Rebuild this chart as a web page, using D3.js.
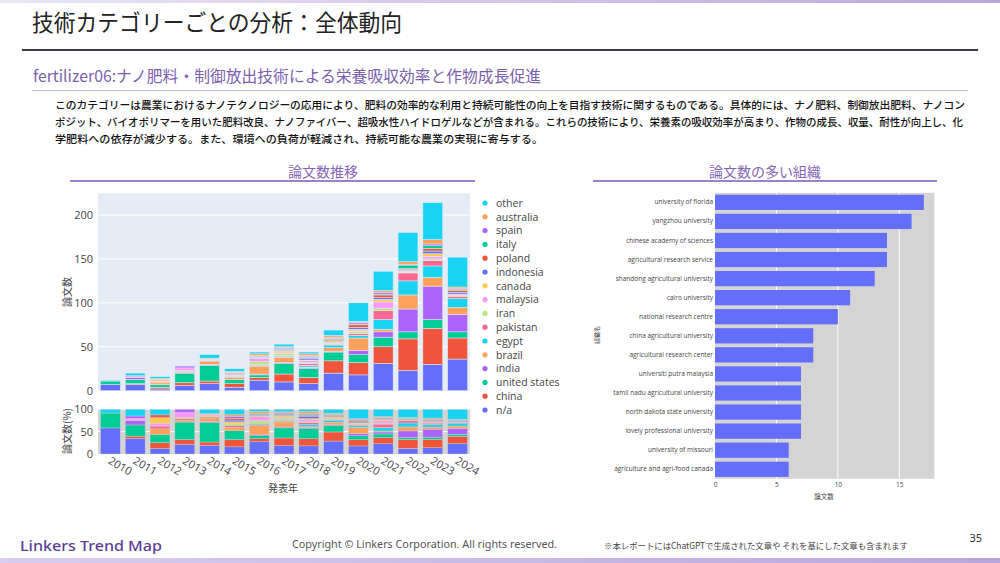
<!DOCTYPE html>
<html><head><meta charset="utf-8">
<script src="https://cdn.jsdelivr.net/npm/d3@7"></script>
<style>
html,body{margin:0;padding:0;background:#fff;}
svg{display:block;}
</style></head>
<body>
<svg id="c" width="1000" height="563"></svg>
<script>
// ---------- DATA ----------
const years = ["2010","2011","2012","2013","2014","2015","2016","2017","2018","2019","2020","2021","2022","2023","2024"];
const seriesKeys = ["n/a","china","united states","india","brazil","egypt","pakistan","iran","malaysia","canada","indonesia","poland","italy","spain","australia","other"];
const seriesColors = ["#636EFA","#EF553B","#00CC96","#AB63FA","#FFA15A","#19D3F3","#FF6692","#B6E880","#FF97FF","#FECB52","#636EFA","#EF553B","#00CC96","#AB63FA","#FFA15A","#19D3F3"];
const vNA        = [7,7,2,6,8,4,12,10,8,20,18,31,23,30,36];
const vChina     = [0,1,2,3,3,4,3,9,7,14,14,19,36,41,24];
const vUS        = [4,5,3,11,18,5,3,12,10,10,9,11,8,10,7];
const vIndia     = [0,2,0,0,1,0,1,1,1,1,5,6,26,38,20];
const vBrazil    = [0,0,2,1,3,2,9,6,1,4,14,3,16,10,8];
const vEgypt     = [0,0,0,0,0,0,1,1,2,3,3,11,16,13,10];
const vPakistan  = [0,0,1,1,1,1,1,1,2,1,2,10,9,6,2];
const vIran      = [0,0,0,1,1,1,3,2,1,1,2,3,1,2,1];
const vMalaysia  = [0,1,1,3,1,0,4,1,2,1,1,7,1,3,1];
const vCanada    = [0,0,2,0,1,1,1,2,1,2,2,3,1,3,1];
const vIndonesia = [0,0,0,0,0,1,1,1,2,1,2,2,1,3,2];
const vPoland    = [0,0,1,0,0,1,0,1,1,1,3,3,1,3,2];
const vItaly     = [0,0,0,0,0,0,1,1,1,1,1,1,4,3,1];
const vSpain     = [0,1,0,2,0,1,0,1,1,1,2,2,1,2,1];
const vAustralia = [0,0,0,0,0,1,2,1,2,2,1,2,3,5,2];
const vOther     = [1,3,2,0,4,3,2,3,2,6,21,22,33,42,34];
const seriesValues = [vNA,vChina,vUS,vIndia,vBrazil,vEgypt,vPakistan,vIran,vMalaysia,vCanada,vIndonesia,vPoland,vItaly,vSpain,vAustralia,vOther];
const legendOrder = ["other","australia","spain","italy","poland","indonesia","canada","malaysia","iran","pakistan","egypt","brazil","india","united states","china","n/a"];
const countTicks = [0,50,100,150,200];
const pctTicks = [0,50,100];

const orgs = ["university of florida","yangzhou university","chinese academy of sciences","agricultural research service","shandong agricultural university","cairo university","national research centre","china agricultural university","agricultural research center","universiti putra malaysia","tamil nadu agricultural university","north dakota state university","lovely professional university","university of missouri","agriculture and agri-food canada"];
const orgCounts = [17,16,14,14,13,11,10,8,8,7,7,7,7,6,6];
const orgTicks = [0,5,10,15];

const titleText = "技術カテゴリーごとの分析：全体動向";
const subtitleText = "fertilizer06:ナノ肥料・制御放出技術による栄養吸収効率と作物成長促進";
const bodyLines = [
 "このカテゴリーは農業におけるナノテクノロジーの応用により、肥料の効率的な利用と持続可能性の向上を目指す技術に関するものである。具体的には、ナノ肥料、制御放出肥料、ナノコン",
 "ポジット、バイオポリマーを用いた肥料改良、ナノファイバー、超吸水性ハイドロゲルなどが含まれる。これらの技術により、栄養素の吸収効率が高まり、作物の成長、収量、耐性が向上し、化",
 "学肥料への依存が減少する。また、環境への負荷が軽減され、持続可能な農業の実現に寄与する。"
];

// ---------- DRAW ----------
const svg = d3.select("#c");
const JP = "'Noto Sans CJK JP','Noto Sans',sans-serif";
const PL = "'Open Sans','Noto Sans',sans-serif";

// gradients
const defs = svg.append("defs");
const g1 = defs.append("linearGradient").attr("id","topg");
g1.append("stop").attr("offset","0%").attr("stop-color","#ece6f5");
g1.append("stop").attr("offset","100%").attr("stop-color","#b9a6dc");
const g2 = defs.append("linearGradient").attr("id","botg");
g2.append("stop").attr("offset","0%").attr("stop-color","#d9cdef");
g2.append("stop").attr("offset","100%").attr("stop-color","#b9a6dc");
svg.append("rect").attr("x",0).attr("y",0).attr("width",1000).attr("height",3).attr("fill","url(#topg)");
svg.append("rect").attr("x",0).attr("y",558).attr("width",1000).attr("height",5).attr("fill","url(#botg)");

// header
svg.append("text").attr("x",32).attr("y",31).attr("font-family",JP).attr("font-size",23)
  .attr("fill","#222").attr("textLength",370).attr("lengthAdjust","spacingAndGlyphs").text(titleText);
svg.append("rect").attr("x",22).attr("y",49).attr("width",956).attr("height",2).attr("fill","#3a3a44");
svg.append("text").attr("x",33).attr("y",82).attr("font-family",JP).attr("font-size",16)
  .attr("fill","#7c5fae").attr("textLength",508).attr("lengthAdjust","spacingAndGlyphs").text(subtitleText);
svg.append("rect").attr("x",32).attr("y",90).attr("width",936).attr("height",1).attr("fill","#c3b4dd");
const bodyW = [910, 908, 488];
bodyLines.forEach((t,i)=>{
  svg.append("text").attr("x",55).attr("y",109+i*17).attr("font-family",JP).attr("font-size",10.5)
   .attr("font-weight",500).attr("fill","#111").attr("textLength",bodyW[i]).attr("lengthAdjust","spacingAndGlyphs")
   .text(t);
});

// section headers
function section(cx, x0, x1, txt){
  svg.append("text").attr("x",cx).attr("y",177).attr("text-anchor","middle").attr("font-family",JP)
    .attr("font-size",14).attr("fill","#8466b4").text(txt);
  svg.append("rect").attr("x",x0).attr("y",180).attr("width",x1-x0).attr("height",2).attr("fill","#9c82c8");
}
section(323, 70, 475, "論文数推移");
section(765, 593, 937, "論文数の多い組織");

// ---------- stacked bar (counts) ----------
const rows = years.map((y,i)=>{ const o={year:y}; seriesKeys.forEach((k,j)=>o[k]=seriesValues[j][i]); return o; });
const totals = rows.map(r=>d3.sum(seriesKeys,k=>r[k]));
const stack = d3.stack().keys(seriesKeys);
const stacked = stack(rows);
const colorOf = d3.scaleOrdinal().domain(seriesKeys).range(seriesColors);

const x = d3.scaleBand().domain(years).range([98,470]).paddingInner(0.2).paddingOuter(0.1);
const y = d3.scaleLinear().domain([0, d3.max(totals)*1.05]).range([390.7,193.3]);

svg.append("rect").attr("x",98).attr("y",193.3).attr("width",372).attr("height",390.7-193.3).attr("fill","#E5ECF6");
svg.append("g").selectAll("line").data(countTicks.filter(t=>t>0)).join("line")
  .attr("x1",98).attr("x2",470).attr("y1",d=>y(d)).attr("y2",d=>y(d)).attr("stroke","#fff").attr("stroke-width",1);
const gy = svg.append("g").attr("transform","translate(98,0)")
  .call(d3.axisLeft(y).tickValues(countTicks).tickSize(0).tickPadding(5));
gy.select(".domain").remove();
gy.selectAll("text").attr("font-family",PL).attr("font-size",11).attr("fill","#444");

svg.append("g").selectAll("g").data(stacked).join("g").attr("fill",d=>colorOf(d.key))
  .selectAll("rect").data(d=>d).join("rect")
  .attr("x",d=>x(d.data.year)).attr("width",x.bandwidth())
  .attr("y",d=>y(d[1])).attr("height",d=>Math.max(0,y(d[0])-y(d[1])))
  .attr("stroke","#E5ECF6").attr("stroke-width",0.5);

svg.append("text").attr("transform","translate(71,292) rotate(-90)").attr("text-anchor","middle")
  .attr("font-family",JP).attr("font-size",10).attr("fill","#444").text("論文数");

// ---------- stacked bar (percent) ----------
const pctRows = rows.map((r,i)=>{ const o={year:r.year}; seriesKeys.forEach(k=>o[k]=r[k]/totals[i]*100); return o; });
const pstack = stack(pctRows);
const yp = d3.scaleLinear().domain([0,100]).range([454,409.3]);
svg.append("rect").attr("x",98).attr("y",409.3).attr("width",372).attr("height",454-409.3).attr("fill","#d4d4d4");
svg.append("g").selectAll("line").data(pctTicks.filter(t=>t>0)).join("line")
  .attr("x1",98).attr("x2",470).attr("y1",d=>yp(d)).attr("y2",d=>yp(d)).attr("stroke","#fff").attr("stroke-width",1);
svg.append("g").selectAll("g").data(pstack).join("g").attr("fill",d=>colorOf(d.key))
  .selectAll("rect").data(d=>d).join("rect")
  .attr("x",d=>x(d.data.year)).attr("width",x.bandwidth())
  .attr("y",d=>yp(d[1])).attr("height",d=>Math.max(0,yp(d[0])-yp(d[1])))
  .attr("stroke","#d4d4d4").attr("stroke-width",0.4);
const gyp = svg.append("g").attr("transform","translate(98,0)")
  .call(d3.axisLeft(yp).tickValues(pctTicks).tickSize(0).tickPadding(5));
gyp.select(".domain").remove();
gyp.selectAll("text").attr("font-family",PL).attr("font-size",11).attr("fill","#444");
svg.append("text").attr("transform","translate(71,431) rotate(-90)").attr("text-anchor","middle")
  .attr("font-family",JP).attr("font-size",10).attr("fill","#444").text("論文数(%)");

const gx = svg.append("g").attr("transform","translate(0,454)")
  .call(d3.axisBottom(x).tickSize(0).tickPadding(0));
gx.select(".domain").remove();
gx.selectAll("text").attr("font-family",PL).attr("font-size",11).attr("fill","#444")
  .attr("text-anchor","start").attr("dy",0)
  .attr("transform",function(){ return "translate(-3,9) rotate(30)"; });
svg.append("text").attr("x",283).attr("y",492).attr("text-anchor","middle")
  .attr("font-family",JP).attr("font-size",10).attr("fill","#444").text("発表年");

// legend
const lg = svg.append("g");
legendOrder.forEach((k,i)=>{
  const yy = 203 + i*13.8;
  lg.append("circle").attr("cx",485).attr("cy",yy).attr("r",2.6).attr("fill",colorOf(k));
  lg.append("text").attr("x",496).attr("y",yy+3.8).attr("font-family",PL).attr("font-size",10.5)
    .attr("fill","#444").text(k);
});

// ---------- horizontal bars (orgs) ----------
const xo = d3.scaleLinear().domain([0, d3.max(orgCounts)*1.05]).range([715,934.3]);
const yo = d3.scaleBand().domain(orgs).range([192.8,478.8]).paddingInner(0.2).paddingOuter(0.1);
svg.append("rect").attr("x",715).attr("y",192.8).attr("width",934.3-715).attr("height",478.8-192.8).attr("fill","#d4d4d4");
svg.append("g").selectAll("line").data(orgTicks.filter(t=>t>0)).join("line")
  .attr("x1",d=>xo(d)).attr("x2",d=>xo(d)).attr("y1",192.8).attr("y2",478.8).attr("stroke","#fff").attr("stroke-width",1);
svg.append("g").selectAll("rect").data(orgs).join("rect")
  .attr("x",xo(0)).attr("y",d=>yo(d)).attr("height",yo.bandwidth())
  .attr("width",(d,i)=>xo(orgCounts[i])-xo(0)).attr("fill","#636EFA");
const gyo = svg.append("g").attr("transform","translate(715,0)")
  .call(d3.axisLeft(yo).tickSize(0).tickPadding(2));
gyo.select(".domain").remove();
gyo.selectAll("text").attr("font-family",PL).attr("font-size",6.5).attr("fill","#444");
const gxo = svg.append("g").attr("transform","translate(0,478.8)")
  .call(d3.axisBottom(xo).tickValues(orgTicks).tickSize(0).tickPadding(4));
gxo.select(".domain").remove();
gxo.selectAll("text").attr("font-family",PL).attr("font-size",6.5).attr("fill","#444");
svg.append("text").attr("x",824).attr("y",499).attr("text-anchor","middle")
  .attr("font-family",JP).attr("font-size",6.5).attr("fill","#444").text("論文数");
svg.append("text").attr("transform","translate(599,335) rotate(-90)").attr("text-anchor","middle")
  .attr("font-family",JP).attr("font-size",6).attr("fill","#444").text("組織名");

// ---------- footer ----------
svg.append("text").attr("x",20).attr("y",551).attr("font-family","'Noto Sans',sans-serif").attr("font-size",15)
  .attr("font-weight",500).attr("fill","#5b3f96").attr("textLength",142).attr("lengthAdjust","spacingAndGlyphs").text("Linkers Trend Map");
svg.append("text").attr("x",292).attr("y",548).attr("font-family","'Noto Sans',sans-serif").attr("font-size",11.5)
  .attr("fill","#555").attr("textLength",265).attr("lengthAdjust","spacingAndGlyphs").text("Copyright © Linkers Corporation. All rights reserved.");
svg.append("text").attr("x",604).attr("y",549).attr("font-family",JP).attr("font-size",8.5)
  .attr("fill","#444").attr("textLength",304).attr("lengthAdjust","spacingAndGlyphs").text("※本レポートにはChatGPTで生成された文章や それを基にした文章も含まれます");
svg.append("text").attr("x",982).attr("y",542).attr("text-anchor","end").attr("font-family","'Noto Sans',sans-serif")
  .attr("font-size",11).attr("fill","#333").text("35");
</script>
</body></html>
